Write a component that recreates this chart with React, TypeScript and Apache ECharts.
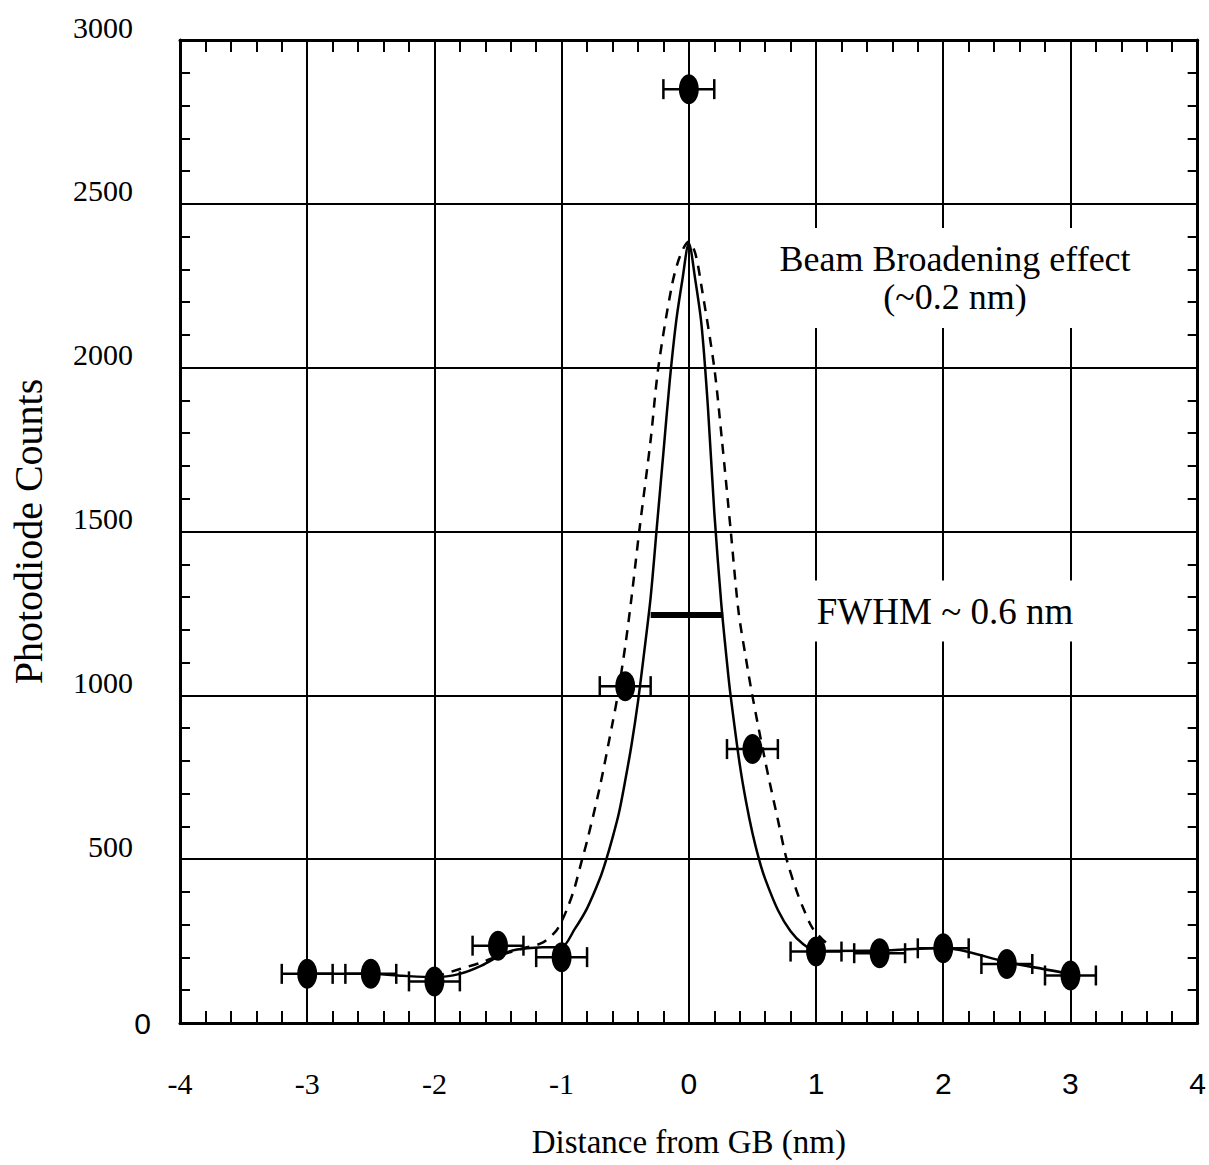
import React, { useEffect, useRef } from "react";
import * as echarts from "echarts";

// Measured data points (Distance from GB, Photodiode Counts) with horizontal error (nm)
const dataX = [-3, -2.5, -2, -1.5, -1, -0.5, 0, 0.5, 1, 1.5, 2, 2.5, 3];
const dataY = [150, 150, 127, 236, 201, 1028, 2850, 836, 218, 213, 228, 180, 145];
const dataErr = [0.2, 0.2, 0.2, 0.2, 0.2, 0.2, 0.2, 0.2, 0.2, 0.2, 0.2, 0.2, 0.2];

// Solid curve
const fitX = [
  -3, -2.5, -2.25, -2, -1.8, -1.63, -1.46, -1.35, -1.15, -1,
  -0.9, -0.8, -0.7, -0.65, -0.6, -0.55, -0.5, -0.45, -0.4, -0.35,
  -0.3, -0.25, -0.2, -0.15, -0.1, -0.05, 0, 0.05, 0.1, 0.15,
  0.2, 0.255, 0.3, 0.325, 0.4, 0.45, 0.5, 0.553, 0.6, 0.7,
  0.8, 0.9, 1, 1.5, 2, 2.5, 3,
];
const fitY = [
  150, 150, 144, 140, 150, 175, 211, 224, 231, 232,
  285, 350, 440, 498, 565, 640, 740, 850, 980, 1135,
  1300, 1520, 1740, 1960, 2140, 2270, 2380, 2270, 2130, 1880,
  1560, 1280, 1100, 1010, 790, 675, 580, 498, 440, 345,
  280, 240, 220, 221, 229, 186, 150,
];

// Dashed curve (beam broadening)
const broadX = [
  -2, -1.8, -1.65, -1.5, -1.3, -1.15, -1.05, -1, -0.95, -0.9,
  -0.84, -0.8, -0.7, -0.6, -0.56, -0.5, -0.45, -0.39, -0.3, -0.24,
  -0.135, -0.07, 0, 0.05, 0.1, 0.2, 0.26, 0.33, 0.39, 0.45,
  0.5, 0.6, 0.7, 0.77, 0.85, 0.9, 0.97, 1.05, 1.12,
];
const broadY = [
  140, 165, 182, 205, 228, 245, 278, 310, 355, 410,
  498, 555, 720, 915, 998, 1150, 1300, 1500, 1780, 2000,
  2247, 2340, 2385, 2350, 2247, 2000, 1780, 1500, 1258, 1110,
  998, 800, 620, 498, 400, 350, 291, 255, 232,
];

// FWHM marker bar
const fwhmX = [-0.3, 0.27];
const fwhmY = [1245, 1245];

const xTicks = { min: -4, max: 4, interval: 1 };
const yTicks = { min: 0, max: 3000, interval: 500 };

const annBeam = "Beam Broadening effect\n(~0.2 nm)";
const annFwhm = "FWHM ~ 0.6 nm";

const SERIF = "'Liberation Serif', 'Times New Roman', serif";
const NARROW = "'Liberation Sans Narrow', 'Liberation Sans', sans-serif";

export default function App() {
  const ref = useRef<HTMLDivElement>(null);

  useEffect(() => {
    if (!ref.current) return;
    const chart = echarts.init(ref.current, undefined, { renderer: "svg" });

    const black = "#000";
    const gridStyle = { color: black, width: 2 };

    const baseX = {
      type: "value" as const,
      min: xTicks.min,
      max: xTicks.max,
      interval: xTicks.interval,
      axisLine: { show: true, onZero: false, lineStyle: { color: black, width: 3 } },
      axisTick: { show: true, inside: true, length: 12, lineStyle: { color: black, width: 2 } },
      minorTick: { show: true, splitNumber: 5, length: 12, lineStyle: { color: black, width: 2 } },
    };
    const baseY = {
      type: "value" as const,
      min: yTicks.min,
      max: yTicks.max,
      interval: yTicks.interval,
      axisLine: { show: true, onZero: false, lineStyle: { color: black, width: 3 } },
      axisTick: { show: true, inside: true, length: 10, lineStyle: { color: black, width: 2 } },
      minorTick: { show: true, splitNumber: 5, length: 10, lineStyle: { color: black, width: 2 } },
    };

    const option: any = {
      animation: false,
      backgroundColor: "#fff",
      grid: { left: 177, right: 10, top: 40, bottom: 142, containLabel: false },
      xAxis: [
        {
          ...baseX,
          position: "bottom",
          splitLine: { show: true, lineStyle: gridStyle },
          axisLabel: {
            margin: 45,
            color: black,
            formatter: (v: number) => (v < 0 ? `{neg|${v}}` : `{pos|${v}}`),
            rich: {
              neg: { fontFamily: SERIF, fontSize: 30, color: black },
              pos: { fontFamily: NARROW, fontSize: 30, color: black },
            },
          },
          name: "Distance from GB (nm)",
          nameLocation: "middle",
          nameGap: 102,
          nameTextStyle: { fontFamily: SERIF, fontSize: 33, color: black },
        },
        {
          ...baseX,
          position: "top",
          splitLine: { show: false },
          axisLabel: { show: false },
        },
      ],
      yAxis: [
        {
          ...baseY,
          position: "left",
          splitLine: { show: true, lineStyle: gridStyle },
          axisLabel: {
            margin: 47,
            color: black,
            fontFamily: SERIF,
            fontSize: 30,
            formatter: (v: number) => (v === 0 ? `{z|0}` : `{n|${v}}`),
            rich: {
              n: { fontFamily: SERIF, fontSize: 30, color: black, padding: [0, 0, 26, 0] },
              z: { fontFamily: NARROW, fontSize: 30, color: black, padding: [0, -18, 0, 0] },
            },
          },
          name: "Photodiode Counts",
          nameLocation: "middle",
          nameGap: 132,
          nameTextStyle: { fontFamily: SERIF, fontSize: 40, color: black },
        },
        {
          ...baseY,
          position: "right",
          splitLine: { show: false },
          axisLabel: { show: false },
        },
      ],
      series: [
        {
          type: "line",
          name: "fit",
          xAxisIndex: 0,
          yAxisIndex: 0,
          data: fitX.map((x, i) => [x, fitY[i]]),
          showSymbol: false,
          symbol: "none",
          smooth: 0.3,
          lineStyle: { color: black, width: 2.5 },
          z: 3,
        },
        {
          type: "line",
          name: "broadening",
          xAxisIndex: 0,
          yAxisIndex: 0,
          data: broadX.map((x, i) => [x, broadY[i]]),
          showSymbol: false,
          symbol: "none",
          smooth: 0.3,
          lineStyle: { color: black, width: 2.5, type: [10, 8] },
          z: 3,
        },
        {
          type: "line",
          name: "fwhm",
          xAxisIndex: 0,
          yAxisIndex: 0,
          data: fwhmX.map((x, i) => [x, fwhmY[i]]),
          showSymbol: false,
          symbol: "none",
          lineStyle: { color: black, width: 6 },
          z: 4,
        },
        {
          type: "custom",
          name: "errorbars",
          xAxisIndex: 0,
          yAxisIndex: 0,
          data: dataX.map((x, i) => [x, dataY[i], dataErr[i]]),
          encode: { x: 0, y: 1 },
          renderItem: (_params: any, api: any) => {
            const x = api.value(0);
            const y = api.value(1);
            const e = api.value(2);
            const a = api.coord([x - e, y]);
            const b = api.coord([x + e, y]);
            const h = 10;
            const st = { stroke: black, lineWidth: 2.5 };
            return {
              type: "group",
              children: [
                { type: "line", shape: { x1: a[0], y1: a[1], x2: b[0], y2: b[1] }, style: st },
                { type: "line", shape: { x1: a[0], y1: a[1] - h, x2: a[0], y2: a[1] + h }, style: st },
                { type: "line", shape: { x1: b[0], y1: b[1] - h, x2: b[0], y2: b[1] + h }, style: st },
              ],
            };
          },
          z: 5,
        },
        {
          type: "scatter",
          name: "data",
          xAxisIndex: 0,
          yAxisIndex: 0,
          data: dataX.map((x, i) => [x, dataY[i]]),
          symbol: "circle",
          symbolSize: [20, 30],
          itemStyle: { color: black, opacity: 1 },
          z: 6,
        },
      ],
      graphic: [
        {
          type: "text",
          x: 955,
          y: 278,
          z: 100,
          style: {
            text: annBeam,
            fontFamily: SERIF,
            fontSize: 36,
            lineHeight: 38,
            fill: black,
            align: "center",
            verticalAlign: "middle",
            backgroundColor: "#fff",
            padding: [12, 6, 12, 6],
          },
        },
        {
          type: "text",
          x: 945,
          y: 611,
          z: 100,
          style: {
            text: annFwhm,
            fontFamily: SERIF,
            fontSize: 37,
            fill: black,
            align: "center",
            verticalAlign: "middle",
            backgroundColor: "#fff",
            padding: [12, 6, 12, 6],
          },
        },
      ],
    };

    chart.setOption(option);
    return () => chart.dispose();
  }, []);

  return (
    <div
      ref={ref}
      style={{ position: "absolute", left: 0, top: 0, width: 1209, height: 1165, background: "#fff" }}
    />
  );
}
